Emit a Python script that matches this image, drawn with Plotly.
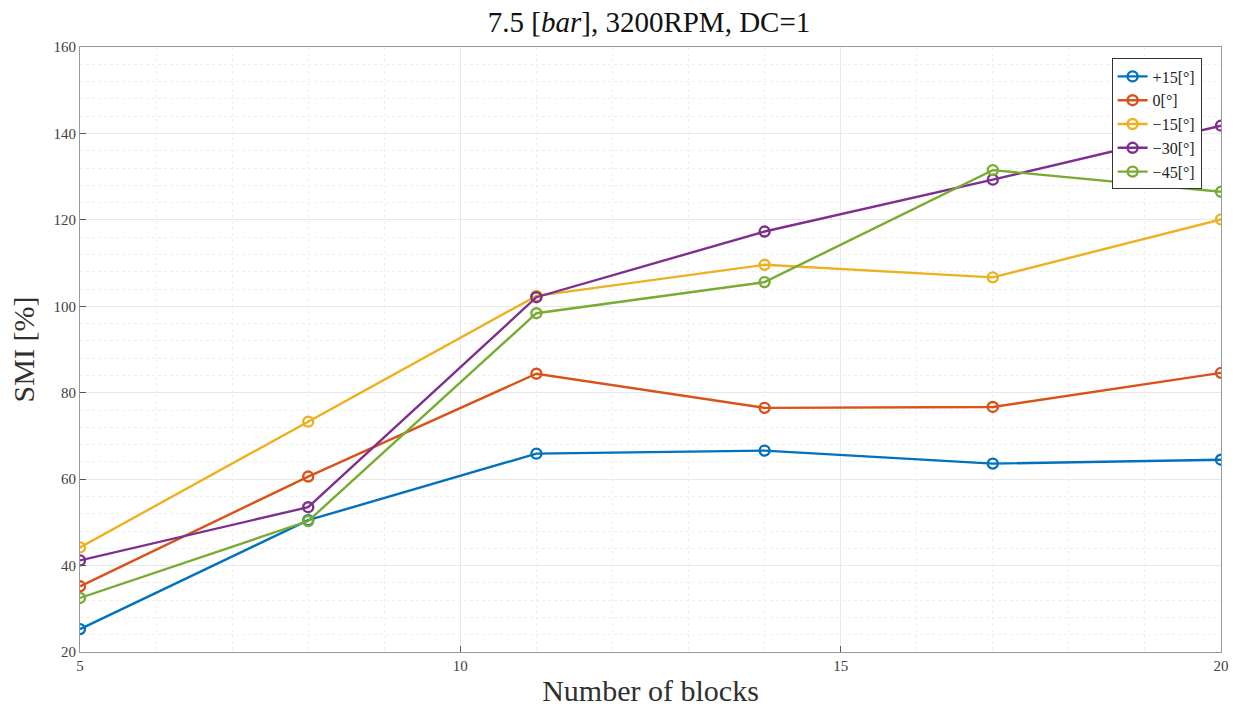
import plotly.graph_objects as go

blocks = [5, 8, 11, 14, 17, 20]
smi_p15 = [25.3, 50.5, 65.9, 66.6, 63.6, 64.5]
smi_0 = [35.2, 60.6, 84.4, 76.5, 76.7, 84.6]
smi_m15 = [44.2, 73.3, 102.4, 109.6, 106.7, 120.1]
smi_m30 = [41.2, 53.5, 102.1, 117.3, 129.3, 141.8]
smi_m45 = [32.5, 50.3, 98.4, 105.6, 131.5, 126.5]

names = ["+15[°]", "0[°]", "\u221215[°]", "\u221230[°]", "\u221245[°]"]
colors = ["#0072BD", "#D95319", "#EDB120", "#7E2F8E", "#77AC30"]
series = [smi_p15, smi_0, smi_m15, smi_m30, smi_m45]

font_family = "Liberation Serif, DejaVu Serif, serif"

fig = go.Figure()
for name, col, ys in zip(names, colors, series):
    fig.add_trace(go.Scatter(
        x=blocks, y=ys, name=name, mode="lines+markers",
        line=dict(color=col, width=2.4),
        marker=dict(symbol="circle-open", size=10, color=col, line=dict(width=2.4, color=col)),
    ))

axis_common = dict(
    showline=True, mirror=True, linecolor="#9a9a9a", linewidth=1,
    ticks="inside", ticklen=6, tickcolor="#555555",
    showgrid=True, gridcolor="#e8e8e8", gridwidth=1,
    zeroline=False,
    tickfont=dict(family=font_family, size=15, color="#404040"),
)

fig.update_layout(
    width=1241, height=713,
    paper_bgcolor="white", plot_bgcolor="white",
    margin=dict(l=80, r=16, t=47, b=59),
    title=dict(text="7.5 [<i>bar</i>], 3200RPM, DC=1", x=0.523, xanchor="center", y=0.970, yanchor="middle",
               font=dict(family=font_family, size=29, color="#111111")),
    xaxis=dict(range=[5, 20], tickvals=[5, 10, 15, 20],
               title=dict(text="Number of blocks", font=dict(family=font_family, size=30, color="#303030"), standoff=6),
               minor=dict(dtick=1, tick0=5, showgrid=True, gridcolor="#efefef", griddash="dot", ticks=""),
               **axis_common),
    yaxis=dict(range=[20, 160], tickvals=[20, 40, 60, 80, 100, 120, 140, 160],
               title=dict(text="SMI [%]", font=dict(family=font_family, size=30, color="#303030"), standoff=10),
               minor=dict(dtick=4, tick0=20, showgrid=True, gridcolor="#efefef", griddash="dot", ticks=""),
               **axis_common),
    legend=dict(x=0.983, y=0.981, xanchor="right", yanchor="top",
                bgcolor="white", bordercolor="#333333", borderwidth=1,
                font=dict(family=font_family, size=16, color="#222222"),
                itemwidth=30, tracegroupgap=0),
    showlegend=True,
)

fig.write_html("out.html")
